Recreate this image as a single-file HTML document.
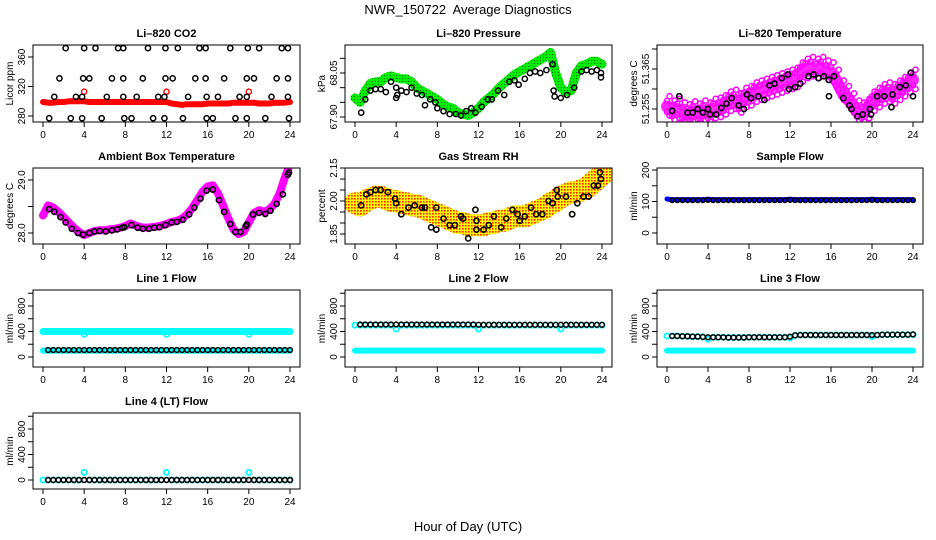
<!DOCTYPE html>
<html><head><meta charset="utf-8"><title>NWR_150722 Average Diagnostics</title>
<style>
html,body{margin:0;padding:0;background:#fff;}
svg{display:block;font-family:"Liberation Sans",sans-serif;}
</style></head>
<body>
<svg id="chart" width="936" height="540" viewBox="0 0 936 540" xmlns="http://www.w3.org/2000/svg">
<defs>
<pattern id="rhDots" width="3" height="3" patternUnits="userSpaceOnUse"><rect width="3" height="3" fill="#ffff00"/><rect width="1.6" height="1.6" fill="#ff2000"/></pattern>
<pattern id="greenDots" width="3" height="3" patternUnits="userSpaceOnUse"><rect width="3" height="3" fill="#00ee00"/><rect width="1" height="1" fill="#007000"/></pattern>
</defs>
<text x="468" y="14" font-size="13" text-anchor="middle">NWR_150722&#160; Average Diagnostics</text>
<text x="468" y="531" font-size="13" text-anchor="middle">Hour of Day (UTC)</text>
</svg>
<script>
// ---- shared hours (0.5 h steps) ----
const H = [0,0.5,1,1.5,2,2.5,3,3.5,4,4.5,5,5.5,6,6.5,7,7.5,8,8.5,9,9.5,10,10.5,11,11.5,12,12.5,13,13.5,14,14.5,15,15.5,16,16.5,17,17.5,18,18.5,19,19.5,20,20.5,21,21.5,22,22.5,23,23.5,24];
const xTicks = [0,4,8,12,16,20,24];

// ---- Li-820 CO2 ----
const co2Red = [299,298,298,299,299,300,300,300,300,299,299,299,299,299,299,299,299,299,299,299,299,299,299,299,299,297,296,295,296,296,296,296,297,297,297,297,297,298,298,298,298,298,297,297,297,298,298,298,299];
const co2OutHours = [4,12,20];
const co2OutVals = [313,313,313];
const co2BlackHours = [2.2,4.0,5.1,7.3,7.8,10.2,11.9,13.1,15.2,15.8,18.2,19.9,21.0,23.2,23.8, 1.6,3.9,4.5,6.7,7.8,9.7,11.9,12.6,14.8,15.8,17.6,19.8,20.5,22.7,23.8, 1.1,3.2,3.8,6.2,7.8,9.1,11.2,11.8,14.1,15.9,17.0,19.1,19.8,22.2,23.8, 0.6,2.7,3.8,5.7,7.9,8.6,10.7,11.8,13.6,15.9,16.5,18.7,19.8,21.6,23.9];
const co2BlackVals = [372,372,372,372,372,372,372,372,372,372,372,372,372,372,372, 331,331,331,331,331,331,331,331,331,331,331,331,331,331,331, 306,306,306,306,306,306,306,306,306,306,306,306,306,306,306, 277,277,277,277,277,277,277,277,277,277,277,277,277,277,277];

// ---- Li-820 Pressure ----
const presGreen = [67.965,67.95,67.99,68.015,68.02,68.02,68.035,68.04,68.035,68.03,68.03,68.02,68.0,67.99,67.98,67.97,67.96,67.945,67.935,67.93,67.915,67.91,67.905,67.915,67.93,67.95,67.965,67.98,68.0,68.015,68.03,68.045,68.055,68.065,68.075,68.085,68.095,68.105,68.12,68.05,68.0,67.985,67.99,68.05,68.075,68.08,68.09,68.09,68.08];
const presBlackHours = [0.6,1,1.5,2,2.5,3,3.5,4,4.1,4,4.5,5,5.5,6,6.5,6.8,7.3,7.8,8,8.6,9.2,9.8,10.3,10.8,11.3,11.7,12.3,12.9,13.3,13.9,14.5,15,15.5,15.9,16.5,17,17.5,18,18.6,19.2,19.3,19.4,20,20.6,21.3,22,22.5,23,23.5,23.9,23.9];
const presBlackVals = [67.915,67.96,67.99,67.995,67.995,67.985,68.02,67.965,67.975,68.0,67.99,67.985,68.0,67.98,67.975,67.94,67.96,67.95,67.93,67.92,67.91,67.91,67.905,67.92,67.93,67.915,67.935,67.96,67.96,67.99,67.975,68.02,68.025,68.01,68.03,68.05,68.055,68.05,68.06,68.08,67.99,67.97,67.965,67.975,68.0,68.055,68.06,68.055,68.06,68.05,68.035];

// ---- Li-820 Temperature ----
const tempMag = [51.262,51.250,51.255,51.245,51.240,51.248,51.242,51.250,51.245,51.255,51.258,51.265,51.275,51.280,51.270,51.285,51.290,51.300,51.305,51.310,51.315,51.320,51.325,51.330,51.335,51.340,51.355,51.365,51.370,51.365,51.370,51.360,51.355,51.335,51.305,51.290,51.270,51.250,51.245,51.255,51.275,51.285,51.295,51.300,51.295,51.305,51.315,51.325,51.335];
const tempBlackHours = [0.5,1.2,2,2.5,3,3.5,4,4.2,4.8,5.3,5.8,6.3,7,7.5,7.8,8.2,8.9,9.5,10,10.5,11.2,11.8,11.9,12.5,13,13.8,14.3,14.8,15.3,15.8,15.8,16.3,17.2,17.8,18,18.6,19.1,19.8,19.9,20.5,21.2,22,21.9,22.7,23.3,23.8,24];
const tempBlackVals = [51.25,51.29,51.245,51.245,51.255,51.245,51.255,51.24,51.24,51.258,51.27,51.285,51.265,51.255,51.295,51.285,51.29,51.28,51.32,51.325,51.34,51.35,51.31,51.315,51.325,51.345,51.35,51.34,51.345,51.335,51.29,51.345,51.285,51.265,51.255,51.235,51.24,51.255,51.24,51.29,51.29,51.295,51.26,51.315,51.32,51.355,51.29];

// ---- Ambient Box Temperature ----
const ambMag = [28.33,28.52,28.48,28.40,28.30,28.20,28.10,28.02,27.96,28.00,28.04,28.05,28.05,28.07,28.08,28.10,28.13,28.18,28.14,28.11,28.10,28.11,28.12,28.14,28.17,28.21,28.23,28.27,28.35,28.47,28.62,28.78,28.88,28.90,28.75,28.52,28.28,28.07,27.98,28.02,28.20,28.38,28.43,28.40,28.45,28.55,28.75,29.05,29.30];
const ambBlackHours = [0.6,1.1,1.7,2.2,2.8,3.4,3.9,4.5,5.0,5.5,6.1,6.7,7.2,7.7,7.9,8.6,9.2,9.7,10.3,10.8,11.3,11.9,12.5,13,13.6,14.2,14.7,15.3,15.9,16.5,17.1,17.6,18.2,18.7,19.2,19.7,19.8,20.4,21,21.6,22.1,22.7,23.3,23.8,23.9];
const ambBlackVals = [28.45,28.40,28.30,28.2,28.08,28.0,27.97,28.0,28.03,28.04,28.03,28.05,28.07,28.1,28.11,28.15,28.1,28.08,28.08,28.1,28.11,28.15,28.2,28.21,28.25,28.35,28.48,28.65,28.8,28.82,28.62,28.4,28.17,28.02,28.02,28.13,28.16,28.35,28.38,28.36,28.42,28.55,28.73,29.1,29.14];

// ---- Gas Stream RH ----
const rhBand = [1.99,1.98,2.00,2.01,2.02,2.02,2.01,2.00,2.00,1.99,1.99,1.98,1.98,1.97,1.96,1.95,1.94,1.93,1.92,1.91,1.90,1.90,1.89,1.89,1.89,1.89,1.90,1.90,1.91,1.91,1.92,1.93,1.93,1.93,1.94,1.95,1.96,1.97,1.99,2.00,2.02,2.03,2.04,2.04,2.05,2.06,2.08,2.10,2.12];
const rhBlackHours = [0.6,1.1,1.5,2,2.5,3.2,3.9,4,4.5,5.2,5.8,6.5,6.8,7.4,7.9,7.9,8.6,9.2,9.7,10.3,10.5,11,11.7,11.8,11.8,12.5,13,13.5,14.2,14.7,15.3,15.8,16,16.5,17.1,17.6,18.2,18.8,19.2,19.6,19.7,20.5,21.1,21.6,22.2,22.7,23.2,23.6,23.8,23.9];
const rhBlackVals = [1.98,2.03,2.04,2.05,2.05,2.04,2.01,1.99,1.94,1.97,1.98,1.97,1.97,1.88,1.97,1.87,1.92,1.89,1.89,1.93,1.92,1.83,1.96,1.91,1.87,1.87,1.89,1.93,1.88,1.92,1.96,1.94,1.91,1.93,1.97,1.94,1.94,2.0,1.99,2.05,2.02,2.02,1.94,1.99,2.02,2.02,2.07,2.07,2.13,2.10];

// ---- Sample Flow ----
const sfBlue = [108,106,106,106,106,106,106,106,107,106,106,106,106,106,106,106,106,106,106,106,106,106,106,106,107,106,106,106,106,106,106,106,106,106,106,106,106,106,106,106,107,106,106,106,106,106,106,106,106];
const sfBlack = [104,104,104,104,104,104,104,104,105,104,104,104,104,104,104,104,104,104,104,104,104,104,104,104,105,104,104,104,104,104,104,104,104,104,104,104,104,104,104,104,105,104,104,104,104,104,104,104,104];

// ---- Line 1 Flow ----
const l1CyanTop = [400,400,400,400,400,400,400,400,355,400,400,400,400,400,400,400,400,400,400,400,400,400,400,400,355,400,400,400,400,400,400,400,400,400,400,400,400,400,400,400,355,400,400,400,400,400,400,400,400];
const l1CyanLow = [100,100,100,100,100,100,100,100,100,100,100,100,100,100,100,100,100,100,100,100,100,100,100,100,100,100,100,100,100,100,100,100,100,100,100,100,100,100,100,100,100,100,100,100,100,100,100,100,100];
const l1Black = [110,110,110,110,110,110,110,110,110,110,110,110,110,110,110,110,110,110,110,110,110,110,110,110,110,110,110,110,110,110,110,110,110,110,110,110,110,110,110,110,110,110,110,110,110,110,110,110,110];

// ---- Line 2 Flow ----
const l2CyanTop = [500,500,500,500,500,500,500,500,440,500,500,500,500,500,500,500,500,500,500,500,500,500,500,500,440,500,500,500,500,500,500,500,500,500,500,500,500,500,500,500,440,500,500,500,500,500,500,500,500];
const l2CyanLow = [100,100,100,100,100,100,100,100,100,100,100,100,100,100,100,100,100,100,100,100,100,100,100,100,100,100,100,100,100,100,100,100,100,100,100,100,100,100,100,100,100,100,100,100,100,100,100,100,100];
const l2Black = [510,510,510,510,510,510,510,510,510,510,510,510,510,510,510,510,510,510,510,510,510,510,510,510,505,505,505,505,505,505,505,505,505,505,505,505,505,505,505,505,505,505,505,505,505,505,505,505,505];

// ---- Line 3 Flow ----
const l3CyanTop = [330,330,330,325,325,320,320,315,280,310,310,310,305,305,305,305,310,310,310,310,310,310,310,310,300,340,345,345,345,345,345,345,345,345,345,345,345,345,345,345,320,345,350,350,350,350,350,350,350];
const l3CyanLow = [100,100,100,100,100,100,100,100,100,100,100,100,100,100,100,100,100,100,100,100,100,100,100,100,100,100,100,100,100,100,100,100,100,100,100,100,100,100,100,100,100,100,100,100,100,100,100,100,100];
const l3Black = [330,330,330,325,325,320,320,315,310,310,310,310,305,305,305,305,310,310,310,310,310,310,310,310,320,340,345,345,345,345,345,345,345,345,345,345,345,345,345,345,345,345,350,350,350,350,350,350,355];

// ---- Line 4 (LT) Flow ----
const l4Cyan = [0,0,0,0,0,0,0,0,120,0,0,0,0,0,0,0,0,0,0,0,0,0,0,0,120,0,0,0,0,0,0,0,0,0,0,0,0,0,0,0,120,0,0,0,0,0,0,0,0];
const l4Black = [0,0,0,0,0,0,0,0,0,0,0,0,0,0,0,0,0,0,0,0,0,0,0,0,0,0,0,0,0,0,0,0,0,0,0,0,0,0,0,0,0,0,0,0,0,0,0,0,0];

const NS = 'http://www.w3.org/2000/svg';
const svg = document.getElementById('chart');
function mk(tag, attrs, parent){
  const e = document.createElementNS(NS, tag);
  for (const k in attrs) e.setAttribute(k, attrs[k]);
  (parent || svg).appendChild(e);
  return e;
}
const COLS = [[33,300,43,290],[345,612,355,602],[657,923,667,913]];
const ROWS = [[45,122],[168,244],[290,367],[413,489]];

function makePanel(name, title, col, row, ymap, yticks, ylabels, ylab){
  const c = COLS[col], r = ROWS[row];
  const g = mk('g', {});
  
  
  const x = h => c[2] + (h/24)*(c[3]-c[2]);
  const y = v => ymap[1] + (v - ymap[0])*(ymap[3]-ymap[1])/(ymap[2]-ymap[0]);
  const clipId = 'clip-' + name;
  const cp = mk('clipPath', {id: clipId}, g);
  mk('rect', {x:c[0], y:r[0], width:c[1]-c[0], height:r[1]-r[0]}, cp);
  const plot = mk('g', {'clip-path':'url(#'+clipId+')'}, g);
  const frame = mk('rect', {x:c[0], y:r[0], width:c[1]-c[0], height:r[1]-r[0], fill:'none', stroke:'#000', 'stroke-width':1}, g);
  
  
  const t = mk('text', {x:(c[0]+c[1])/2, y:r[0]-8, 'font-size':11, 'font-weight':'bold', 'text-anchor':'middle'}, g);
  t.textContent = title;
  
  
  xTicks.forEach(h => {
    mk('line', {x1:x(h), x2:x(h), y1:r[1], y2:r[1]+5, stroke:'#000'}, g);
    const tl = mk('text', {x:x(h), y:r[1]+16, 'font-size':10, 'text-anchor':'middle'}, g);
    tl.textContent = String(h);
    
    
  });
  mk('line', {x1:c[0], x2:c[0], y1:y(yticks[0]), y2:y(yticks[yticks.length-1]), stroke:'#000'}, g);
  yticks.forEach((v,i) => {
    mk('line', {x1:c[0]-5, x2:c[0], y1:y(v), y2:y(v), stroke:'#000'}, g);
    if (ylabels[i]) {
      const yl = mk('text', {x:0, y:0, 'font-size':10, 'text-anchor':'middle', transform:'translate('+(c[0]-8)+','+y(v)+') rotate(-90)'}, g);
      yl.textContent = ylabels[i];
      
      
    }
  });
  const ya = mk('text', {x:0, y:0, 'font-size':10, 'text-anchor':'middle', transform:'translate('+(c[0]-20)+','+((r[0]+r[1])/2)+') rotate(-90)'}, g);
  ya.textContent = ylab;
  
  
  return {x, y, plot};
}
function band(P, name, hours, vals, color, width, op){
  const pts = hours.map((h,i) => P.x(h).toFixed(1) + ',' + P.y(vals[i]).toFixed(1)).join(' ');
  const pl = mk('polyline', {points:pts, fill:'none', stroke:color, 'stroke-width':width, 'stroke-linejoin':'round', 'stroke-linecap':'round', 'stroke-opacity': op || 1}, P.plot);
  
  
}
function dots(P, name, hours, vals, color, r, sw){
  hours.forEach((h,i) => {
    const ci = mk('circle', {cx:P.x(h), cy:P.y(vals[i]), r:r, fill:'none', stroke:color, 'stroke-width':sw}, P.plot);
    
    
  });
}

// CO2
let P = makePanel('co2', 'Li\u2013820 CO2', 0, 0, [360,57,280,116], [280,320,360], ['280','320','360'], 'Licor ppm');
band(P, 'co2-red-series', H, co2Red, '#ff0000', 6);
dots(P, 'co2-red-outlier', co2OutHours, co2OutVals, '#ff0000', 2.6, 1.4);
dots(P, 'co2-black-point', co2BlackHours, co2BlackVals, '#000', 2.6, 1.5);

// Pressure
P = makePanel('pressure', 'Li\u2013820 Pressure', 1, 0, [68.05,73,67.90,117], [67.90,67.95,68.00,68.05,68.10], ['67.90','','','68.05',''], 'kPa');
band(P, 'pressure-green-series', H, presGreen, 'url(#greenDots)', 9);
dots(P, 'pressure-black-point', presBlackHours, presBlackVals, '#000', 2.6, 1.5);

// Temperature
P = makePanel('li820-temperature', 'Li\u2013820 Temperature', 2, 0, [51.365,69,51.255,109], [51.255,51.31,51.365,51.42], ['51.255','','51.365',''], 'degrees C');
band(P, 'temperature-magenta-series', H, tempMag, '#ff00ff', 12, 0.85);
dots(P, 'temperature-magenta-point', H, tempMag.map(v => v + 0.015), '#ff00ff', 2.6, 1.5);
dots(P, 'temperature-magenta-point', H, tempMag.map(v => v - 0.015), '#ff00ff', 2.6, 1.5);
dots(P, 'temperature-magenta-point', H.map(h => h + 0.25), tempMag.map(v => v + 0.028), '#ff00ff', 2.6, 1.5);
dots(P, 'temperature-magenta-point', H.map(h => h + 0.25), tempMag.map(v => v - 0.025), '#ff00ff', 2.6, 1.5);
dots(P, 'temperature-black-point', tempBlackHours, tempBlackVals, '#000', 2.6, 1.6);

// Ambient
P = makePanel('ambient', 'Ambient Box Temperature', 0, 1, [29.0,180,28.0,233], [28.0,28.5,29.0], ['28.0','','29.0'], 'degrees C');
band(P, 'ambient-magenta-series', H, ambMag, '#ff00ff', 8);
dots(P, 'ambient-black-point', ambBlackHours, ambBlackVals, '#000', 2.6, 1.6);

// RH
P = makePanel('rh', 'Gas Stream RH', 1, 1, [2.15,168,1.85,234], [1.85,1.90,1.95,2.00,2.05,2.10,2.15], ['1.85','','','2.00','','','2.15'], 'percent');
band(P, 'rh-yellow-series', H, rhBand, 'url(#rhDots)', 22);
dots(P, 'rh-black-point', rhBlackHours, rhBlackVals, '#000', 2.6, 1.6);

// Sample flow
P = makePanel('sample-flow', 'Sample Flow', 2, 1, [200,170,0,233], [0,50,100,150,200], ['0','','100','','200'], 'ml/min');
band(P, 'sample-flow-blue-series', H, sfBlue, '#0000ff', 5);
dots(P, 'sample-flow-black-point', H.slice(1), sfBlack.slice(1), '#000', 2.3, 1.5);

const flowTicks = [0,200,400,600,800,1000];
const flowLabels = ['0','','400','','800',''];
// Line 1
P = makePanel('line1-flow', 'Line 1 Flow', 0, 2, [800,306,0,357], flowTicks, flowLabels, 'ml/min');
band(P, 'line1-cyan-high', H, l1CyanTop.map(v => 400), '#00ffff', 7);
dots(P, 'line1-cyan-high-point', H, l1CyanTop, '#00ffff', 2.6, 1.6);
band(P, 'line1-cyan-low', H, l1CyanLow, '#00ffff', 6);
dots(P, 'line1-black-point', H.slice(1), l1Black.slice(1), '#000', 2.4, 1.5);

// Line 2
P = makePanel('line2-flow', 'Line 2 Flow', 1, 2, [800,306,0,357], flowTicks, flowLabels, 'ml/min');
dots(P, 'line2-cyan-high-point', H, l2CyanTop, '#00ffff', 2.6, 1.8);
band(P, 'line2-cyan-low', H, l2CyanLow, '#00ffff', 6);
dots(P, 'line2-black-point', H.slice(1), l2Black.slice(1), '#000', 2.4, 1.5);

// Line 3
P = makePanel('line3-flow', 'Line 3 Flow', 2, 2, [800,306,0,357], flowTicks, flowLabels, 'ml/min');
dots(P, 'line3-cyan-high-point', H, l3CyanTop, '#00ffff', 2.6, 1.8);
band(P, 'line3-cyan-low', H, l3CyanLow, '#00ffff', 6);
dots(P, 'line3-black-point', H.slice(1), l3Black.slice(1), '#000', 2.4, 1.5);

// Line 4
P = makePanel('line4-flow', 'Line 4 (LT) Flow', 0, 3, [800,429,0,480], flowTicks, flowLabels, 'ml/min');
dots(P, 'line4-cyan-point', H, l4Cyan, '#00ffff', 2.6, 1.8);
dots(P, 'line4-black-point', H.slice(1), l4Black.slice(1), '#000', 2.4, 1.6);
</script>
</body></html>
